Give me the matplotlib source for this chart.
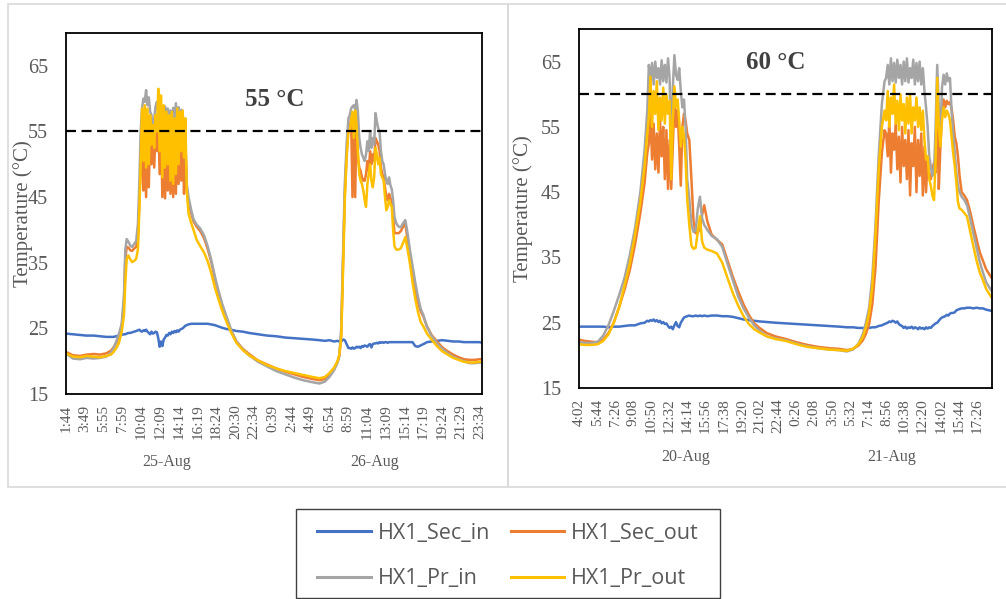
import matplotlib
matplotlib.use("Agg")
import matplotlib.pyplot as plt
from matplotlib.patches import Rectangle
import matplotlib.transforms as mtransforms

# ---------------- LEFT PANEL (25-26 Aug, set point 55 C) ----------------
# time in hours since 00:00 of 25-Aug
t_left = [1.73, 2.5, 3.3, 4.0, 4.8, 5.5, 6.2, 6.7, 7.0, 7.3, 7.6, 7.9, 8.15, 8.3, 8.45, 8.65, 8.85, 9.05, 9.3, 9.5, 9.7, 9.85, 10.0,
          10.15, 10.3, 10.45, 10.6, 10.75, 10.9, 11.05, 11.2, 11.35, 11.5, 11.65, 11.8, 11.95, 12.1, 12.25, 12.4, 12.55, 12.7,
          12.85, 13.0, 13.15, 13.3, 13.45, 13.6, 13.75, 13.9, 14.05, 14.2, 14.35, 14.5, 14.65, 14.8, 14.95, 15.1,
          15.3, 15.6, 15.85, 16.2, 16.6, 17.0, 17.4, 17.8, 18.2, 18.6, 19.0, 19.5, 20.0, 20.6, 21.3, 22.0, 23.0, 24.0, 25.0,
          26.0, 27.0, 28.0, 29.0, 29.8, 30.4, 30.9, 31.4, 31.8, 32.0,
          32.2, 32.4, 32.6, 32.8, 33.0,
          33.15, 33.3, 33.45, 33.6, 33.75, 33.9, 34.05, 34.2, 34.35, 34.5, 34.65, 34.8, 34.95, 35.1, 35.25, 35.4, 35.55,
          35.7, 35.85, 36.0, 36.15, 36.3, 36.45, 36.6, 36.75, 36.9, 37.05, 37.2, 37.35, 37.5, 37.65, 37.8, 37.95, 38.1,
          38.3, 38.55, 38.8, 39.05, 39.3, 39.55, 39.8, 40.1, 40.4, 40.7, 41.0, 41.3, 41.7, 42.2, 42.8, 43.4, 44.0, 44.6,
          45.2, 45.8, 46.4, 47.0, 47.5, 47.8]

sec_in_left = [24.2, 24.1, 24.0, 23.9, 23.9, 23.8, 23.7, 23.7, 23.7, 23.8, 23.9, 24.0, 24.1, 24.1, 24.2, 24.3, 24.3, 24.4, 24.5, 24.6, 24.7, 24.8, 24.6,
               24.5, 24.7, 24.6, 24.8, 24.5, 24.3, 24.1, 24.5, 24.2, 24.3, 24.5, 24.4, 23.5, 22.2, 23.0, 22.3, 23.3, 23.6,
               24.0, 23.9, 24.3, 24.1, 24.5, 24.3, 24.6, 24.4, 24.7, 24.5, 24.8, 24.9, 25.0, 25.2, 25.4, 25.5,
               25.6, 25.7, 25.7, 25.7, 25.7, 25.7, 25.7, 25.6, 25.5, 25.3, 25.1, 24.9, 24.8, 24.6, 24.5, 24.3, 24.1, 23.9, 23.8,
               23.6, 23.5, 23.4, 23.3, 23.2, 23.1, 23.2, 23.0, 23.1, 23.0,
               23.0, 23.3, 23.2, 22.6, 22.0,
               22.0, 21.9, 22.1, 21.9, 22.0, 22.2, 22.1, 22.2, 22.0, 22.3, 22.2, 22.4, 22.3, 22.2, 22.5, 22.6, 22.1,
               22.6, 22.7, 22.7, 22.8, 22.7, 22.9, 22.8, 22.9, 22.8, 22.9, 22.9, 22.8, 22.9, 22.9, 22.9, 22.9, 22.9,
               22.9, 22.9, 22.9, 22.9, 22.9, 22.9, 22.9, 22.9, 22.3, 22.2, 22.4, 22.6, 22.9, 23.0, 23.1, 23.2, 23.1, 23.0,
               23.0, 22.9, 22.9, 22.9, 22.9, 22.8]

sec_out_left = [21.4, 20.9, 20.8, 21.0, 21.1, 21.0, 21.2, 21.6, 22.1, 22.8, 23.8, 25.2, 29.0, 35.5, 37.4, 37.3, 36.9, 36.8, 37.2, 37.4, 39.0, 44.0, 50.0,
                52.0, 46.0, 55.0, 45.0, 54.0, 46.5, 55.0, 50.0, 54.5, 49.5, 55.0, 52.0, 57.0, 48.5, 56.0, 45.0, 55.0, 44.8,
                54.5, 46.0, 55.0, 45.5, 55.5, 45.0, 54.5, 45.5, 55.0, 47.0, 55.0, 47.5, 55.5, 45.5, 53.0, 46.5,
                44.0, 42.5, 41.3, 40.5, 39.8, 38.8, 37.2, 35.2, 32.7, 30.5, 28.6, 26.6, 24.7, 23.0, 21.9, 21.1, 20.1, 19.5, 18.9,
                18.4, 18.0, 17.6, 17.3, 17.1, 17.3, 17.9, 18.8, 19.9, 20.9,
                24.0, 34.5, 45.5, 51.5, 55.5,
                55.5, 57.0, 45.0, 56.5, 45.0, 57.5, 51.0, 49.5, 49.0, 48.0, 47.5, 47.5, 48.5, 50.5, 49.0, 52.0, 50.0,
                51.5, 50.5, 54.0, 53.5, 53.0, 52.0, 49.5, 48.5, 48.0, 46.5, 45.0, 44.5, 45.5, 44.8, 44.5, 42.0, 39.5,
                39.5, 39.5, 39.8, 40.5, 41.0, 38.5, 36.0, 33.5, 31.0, 29.0, 27.6, 26.8, 25.3, 24.0, 23.0, 22.1, 21.5, 21.0,
                20.6, 20.3, 20.2, 20.2, 20.3, 20.3]

pr_in_left = [21.2, 20.4, 20.3, 20.5, 20.4, 20.5, 20.7, 21.3, 22.0, 23.0, 24.2, 25.7, 30.0, 37.0, 38.6, 38.2, 37.6, 37.4, 37.9, 38.3, 41.0, 47.0, 55.0,
              58.5, 60.0, 59.5, 61.3, 59.0, 60.2, 58.0, 57.5, 53.5, 57.0, 58.8, 59.5, 57.8, 59.3, 56.5, 58.5, 57.0, 58.8,
              55.5, 58.5, 56.0, 58.2, 55.0, 58.6, 56.5, 59.3, 56.0, 58.7, 55.5, 58.3, 57.6, 56.0, 54.0, 47.0,
              45.0, 43.0, 41.6, 40.8, 40.2, 39.2, 37.6, 35.5, 33.0, 30.8, 28.8, 26.8, 24.8, 23.0, 21.8, 20.9, 19.9, 19.2, 18.5,
              18.0, 17.5, 17.1, 16.8, 16.6, 16.9, 17.6, 18.6, 19.8, 20.8,
              25.0, 36.0, 47.0, 53.0, 57.0,
              57.5, 58.5, 58.8, 59.0, 58.3, 59.8, 58.0, 54.0, 52.5, 51.5, 51.0, 50.5, 51.5, 53.5, 52.0, 55.0, 52.5,
              54.0, 53.0, 57.8, 56.5, 55.5, 55.0, 52.0, 50.5, 50.0, 48.5, 47.5, 47.0, 48.0, 46.8, 46.2, 44.5, 42.0,
              41.0, 40.5, 40.4, 41.0, 41.5, 39.5, 37.0, 34.5, 32.0, 29.8, 28.0, 27.0, 25.2, 23.9, 22.7, 21.9, 21.2, 20.7,
              20.3, 20.0, 19.7, 19.7, 19.8, 19.8]

pr_out_left = [21.2, 20.7, 20.6, 20.8, 20.7, 20.6, 20.8, 21.0, 21.4, 22.0, 22.8, 24.5, 27.0, 32.0, 35.5, 36.1, 35.5, 35.1, 35.3, 35.6, 37.0, 43.0, 50.0,
               58.5, 50.5, 59.0, 49.5, 58.5, 50.0, 57.5, 53.0, 56.0, 52.5, 57.5, 55.0, 61.5, 52.0, 60.5, 48.0, 59.0, 49.5,
               58.0, 50.0, 57.5, 47.5, 58.0, 47.0, 57.0, 48.5, 58.5, 50.0, 58.0, 52.0, 58.2, 51.0, 57.0, 46.0,
               42.5, 41.0, 40.0, 38.5, 37.5, 36.6, 35.3, 33.5, 31.3, 29.5, 27.8, 26.0, 24.4, 22.8, 21.7, 20.9, 20.1, 19.4, 18.9,
               18.5, 18.2, 17.9, 17.6, 17.4, 17.6, 18.2, 19.0, 20.0, 21.0,
               23.5, 33.5, 44.5, 51.0, 55.0,
               55.0, 56.5, 58.0, 54.0, 58.2, 56.0, 52.0, 48.5, 47.5, 47.0, 46.0, 44.5, 43.5, 47.0, 48.5, 50.0, 47.5,
               46.5, 48.0, 52.5, 51.5, 50.0, 51.0, 48.5, 48.0, 47.5, 45.0, 43.0, 43.5, 44.5, 44.0, 43.5, 40.0, 37.5,
               37.0, 37.0, 37.2, 38.0, 38.9, 37.0, 35.0, 32.0, 29.5, 27.5, 26.0, 25.3, 24.2, 23.3, 22.3, 21.5, 21.0, 20.5,
               20.2, 19.9, 19.8, 19.8, 19.9, 19.9]

ticks_left = ["1:44", "3:49", "5:55", "7:59", "10:04", "12:09", "14:14", "16:19", "18:24", "20:30", "22:34", "0:39",
              "2:44", "4:49", "6:54", "8:59", "11:04", "13:09", "15:14", "17:19", "19:24", "21:29", "23:34"]
days_left = ["25-Aug", "26-Aug"]
setpoint_left = 55

# ---------------- RIGHT PANEL (20-21 Aug, set point 60 C) ----------------
# time in hours since 00:00 of 20-Aug
t_right = [4.05, 4.6, 5.2, 5.8, 6.3, 6.8, 7.3, 7.8, 8.3, 8.8, 9.3, 9.8, 10.2, 10.45,
           10.6, 10.75, 10.9, 11.05, 11.2, 11.35, 11.5, 11.65, 11.8, 11.95, 12.1, 12.25, 12.4, 12.55, 12.7, 12.85, 13.0,
           13.15, 13.3, 13.45, 13.6, 13.75, 13.9, 14.05, 14.2,
           14.4, 14.6, 14.8, 15.0, 15.2, 15.4, 15.6, 15.8, 16.1, 16.5, 17.0, 17.5, 18.0, 18.5, 19.0, 19.5, 20.0, 20.5, 21.0,
           21.7, 22.5, 23.5, 24.5, 25.5, 26.5, 27.5, 28.5, 29.2, 29.8, 30.3, 30.7, 31.0, 31.3, 31.6, 31.9, 32.2, 32.5, 32.75,
           32.9, 33.05, 33.2, 33.35, 33.5, 33.65, 33.8, 33.95, 34.1, 34.25, 34.4, 34.55, 34.7, 34.85, 35.0, 35.15, 35.3,
           35.45, 35.6, 35.75, 35.9, 36.05, 36.2, 36.35, 36.5, 36.65,
           36.8, 36.95, 37.1, 37.25, 37.4, 37.55, 37.7, 37.85, 38.0, 38.15, 38.3, 38.45, 38.6, 38.75, 38.9, 39.05, 39.2,
           39.35, 39.5, 39.65, 39.8, 40.0, 40.25, 40.5, 40.8, 41.1, 41.4, 41.7, 42.0, 42.3, 42.6, 42.85]

sec_in_right = [24.4, 24.4, 24.4, 24.4, 24.4, 24.3, 24.4, 24.4, 24.5, 24.6, 24.6, 24.9, 25.0, 25.3,
                25.2, 25.4, 25.3, 25.5, 25.2, 25.4, 25.1, 25.3, 24.9, 25.1, 24.8, 24.9, 24.5, 24.2, 24.4, 24.0, 24.6,
                25.1, 24.5, 24.3, 25.0, 25.4, 25.8, 25.9, 26.0,
                26.1, 26.0, 26.0, 26.1, 26.0, 26.1, 26.0, 26.1, 26.0, 26.1, 26.1, 26.0, 26.0, 25.9, 25.7, 25.5, 25.4, 25.3, 25.2,
                25.1, 25.0, 24.9, 24.8, 24.7, 24.6, 24.5, 24.4, 24.3, 24.3, 24.2, 24.2, 24.2, 24.2, 24.3, 24.3, 24.5, 24.6, 24.8,
                24.9, 25.0, 25.2, 25.1, 25.3, 25.2, 25.0, 25.2, 24.8, 24.6, 24.5, 24.2, 24.4, 24.1, 24.3, 24.2, 24.4,
                24.1, 24.3, 24.2, 24.0, 24.3, 24.1, 24.2, 24.0, 24.3,
                24.1, 24.3, 24.2, 24.5, 24.7, 24.9, 25.0, 25.3, 25.6, 25.8, 25.9, 26.0, 26.2, 26.1, 26.4, 26.5, 26.5,
                26.6, 26.9, 27.0, 27.1, 27.2, 27.2, 27.3, 27.3, 27.2, 27.3, 27.2, 27.2, 27.0, 26.9, 26.8]

sec_out_right = [22.4, 22.2, 22.1, 22.0, 22.4, 23.4, 25.0, 27.4, 30.0, 33.0, 37.0, 41.8, 46.5, 51.0,
                 52.5, 57.0, 50.0, 55.5, 48.5, 54.0, 48.0, 56.0, 50.5, 55.0, 47.0, 54.5, 45.5, 53.0, 45.5, 52.0, 59.2,
                 55.0, 57.6, 52.0, 46.0, 55.0, 57.0, 56.0, 54.0,
                 53.0, 47.0, 40.5, 38.7, 38.8, 39.5, 41.5, 43.0, 40.5, 38.5, 37.7, 37.0, 34.5, 32.0, 29.8, 27.8, 26.2, 24.9, 24.2,
                 23.4, 22.9, 22.5, 22.0, 21.6, 21.3, 21.1, 21.0, 20.8, 21.0, 21.5, 22.3, 23.3, 24.8, 27.8, 33.5, 43.5, 51.0, 54.5,
                 54.0, 50.5, 56.0, 48.0, 54.0, 51.5, 55.5, 48.5, 53.5, 46.5, 55.0, 49.0, 53.0, 47.0, 54.5, 44.5, 52.5,
                 49.0, 55.0, 45.0, 53.0, 47.5, 54.0, 44.5, 52.0, 45.0,
                 50.0, 47.5, 47.0, 48.5, 49.5, 48.0, 57.0, 45.5, 52.0, 57.5, 59.2, 58.0, 59.0, 58.5, 58.8, 57.8, 56.0,
                 53.5, 52.5, 50.5, 47.5, 45.0, 44.5, 43.8, 42.0, 39.8, 37.8, 35.8, 34.5, 33.2, 32.4, 31.8]

pr_in_right = [22.0, 21.9, 21.9, 22.1, 23.0, 24.6, 26.8, 29.2, 31.8, 35.3, 39.5, 45.0, 51.5, 57.5,
               64.5, 62.0, 64.8, 61.5, 65.0, 62.5, 64.0, 61.5, 65.2, 62.0, 64.5, 61.8, 65.5, 62.5, 50.0, 61.0, 66.0,
               63.0, 62.2, 64.0, 60.5, 58.0, 59.2, 55.0, 47.0,
               44.0, 40.0, 38.9, 39.2, 42.5, 44.3, 41.0, 40.0, 39.2, 38.3, 37.8, 36.6, 34.0, 31.5, 29.0, 27.2, 25.8, 24.6, 23.8,
               22.9, 22.6, 22.3, 21.8, 21.4, 21.1, 20.9, 20.8, 20.6, 20.9, 21.8, 23.2, 25.0, 27.3, 32.0, 40.0, 50.5, 58.5, 62.0,
               62.5, 64.5, 61.5, 65.5, 62.0, 64.8, 61.8, 65.3, 62.5, 64.5, 61.5, 65.0, 62.0, 65.5, 61.8, 64.0, 62.5,
               65.3, 61.5, 64.8, 62.0, 65.0, 61.5, 64.0, 60.5, 58.0,
               55.0, 50.5, 49.0, 47.5, 48.0, 55.0, 64.5, 58.0, 54.0, 61.0, 63.0, 61.5, 63.2, 62.0, 62.5, 57.5, 54.0,
               51.0, 48.0, 46.0, 45.0, 44.3, 43.8, 43.0, 41.0, 38.7, 36.5, 34.3, 32.7, 31.2, 30.4, 29.8]

pr_out_right = [21.7, 21.6, 21.6, 21.7, 22.2, 23.2, 25.0, 27.3, 30.6, 34.0, 38.5, 43.5, 49.0, 54.0,
                56.5, 62.7, 55.0, 60.5, 57.0, 62.0, 54.5, 59.5, 56.0, 61.0, 55.5, 60.0, 57.0, 59.0, 47.0, 56.0, 61.2,
                58.0, 59.2, 56.0, 52.0, 55.0, 53.5, 50.0, 44.0,
                40.0, 36.8, 36.3, 36.5, 39.0, 41.3, 37.5, 36.5, 36.2, 36.0, 35.6, 34.2, 31.8, 29.5, 27.6, 26.0, 24.8, 24.0, 23.5,
                22.9, 22.5, 22.2, 21.7, 21.3, 21.1, 20.9, 20.8, 20.7, 21.0, 21.7, 22.8, 24.3, 26.5, 30.5, 38.5, 48.5, 55.0, 57.5,
                56.0, 60.5, 55.0, 59.5, 57.0, 61.5, 55.5, 59.0, 54.5, 60.0, 56.0, 58.5, 54.0, 59.5, 55.5, 60.0, 54.0,
                58.0, 56.0, 59.5, 55.0, 58.0, 54.5, 57.5, 53.0, 50.0,
                50.5, 47.0, 46.0, 44.5, 43.8, 50.0, 62.5, 55.0, 52.0, 56.0, 58.0, 56.5, 57.5, 57.0, 56.0, 53.5, 51.0,
                49.0, 46.5, 43.5, 42.5, 42.3, 41.8, 41.3, 39.0, 36.7, 34.5, 32.7, 31.5, 30.2, 29.4, 28.8]

ticks_right = ["4:02", "5:44", "7:26", "9:08", "10:50", "12:32", "14:14", "15:56", "17:38", "19:20", "21:02", "22:44",
               "0:26", "2:08", "3:50", "5:32", "7:14", "8:56", "10:38", "12:20", "14:02", "15:44", "17:26"]
days_right = ["20-Aug", "21-Aug"]
setpoint_right = 60

series_names = ["HX1_Sec_in", "HX1_Sec_out", "HX1_Pr_in", "HX1_Pr_out"]
colors = ["#4472C4", "#ED7D31", "#A5A5A5", "#FFC000"]
yticks = [15, 25, 35, 45, 55, 65]

SERIF = "Liberation Serif"
TXT = "#595959"
W, H = 1006, 599


def tick_hours(labels):
    out, day, prev = [], 0, -1
    for s in labels:
        h, m = s.split(":")
        v = int(h) + int(m) / 60.0
        if v < prev:
            day += 24
        prev = v
        out.append(v + day)
    return out


def fig_rect(x0, y0, x1, y1):
    # pixel box (top-left origin) -> figure fraction [l, b, w, h]
    return [x0 / W, 1 - y1 / H, (x1 - x0) / W, (y1 - y0) / H]


fig = plt.figure(figsize=(10.06, 5.99), dpi=100)
fig.patch.set_facecolor("white")

# outer panel frames
for (x0, y0, x1, y1) in [(8, 4, 508, 487), (508, 4, 1010, 487)]:
    l, b, w, h = fig_rect(x0, y0, x1, y1)
    fig.add_artist(Rectangle((l, b), w, h, transform=fig.transFigure, fill=False,
                             ec="#d9d9d9", lw=1.2))


def panel(box, t, s_in, s_out, p_in, p_out, tick_labels, days, setpoint, xmax,
          ylab_x, text_xy, date_y):
    for arr in (s_in, s_out, p_in, p_out):
        assert len(arr) == len(t), (len(arr), len(t))
    ax = fig.add_axes(fig_rect(*box))
    lines = []
    for arr, c, nm in zip((s_in, s_out, p_in, p_out), colors, series_names):
        ln, = ax.plot(t, arr, color=c, lw=1.8, label=nm, solid_joinstyle="round")
        lines.append(ln)
    ax.axhline(setpoint, color="black", lw=1.6, ls=(0, (4.5, 2.5)))
    tpos = tick_hours(tick_labels)
    ax.set_xlim(tpos[0], xmax)
    ax.set_ylim(15, 70)
    ax.set_xticks(tpos)
    ax.set_xticklabels(tick_labels, rotation=90, fontfamily=SERIF, fontsize=11, color=TXT)
    ax.set_yticks(yticks)
    ax.set_yticklabels([str(v) for v in yticks], fontfamily=SERIF, fontsize=14.5, color=TXT)
    ax.tick_params(axis="both", length=0)
    ax.tick_params(axis="x", pad=7.5)
    ax.tick_params(axis="y", pad=13)
    for sp in ax.spines.values():
        sp.set_color("black")
        sp.set_linewidth(1.3)
    ax.set_ylabel("Temperature (°C)", fontfamily=SERIF, fontsize=15, color=TXT)
    ax.yaxis.set_label_coords(ylab_x, 0.5)
    ax.text(text_xy[0], text_xy[1], f"{setpoint} °C", transform=ax.transAxes,
            ha="center", va="center", fontfamily=SERIF, fontsize=18, fontweight="bold", color="#404040")
    trans = mtransforms.blended_transform_factory(ax.transData, ax.transAxes)
    bounds = [tpos[0], 24.0, xmax]
    for i, d in enumerate(days):
        ax.text((bounds[i] + bounds[i + 1]) / 2, date_y, d, transform=trans, ha="center", va="center",
                fontfamily=SERIF, fontsize=11.5, color=TXT, clip_on=False)
    return lines


lines = panel((66, 33, 482, 394), t_left, sec_in_left, sec_out_left, pr_in_left, pr_out_left,
              ticks_left, days_left, setpoint_left, 47.79, -0.079, (0.502, 0.817), -0.188)
panel((579, 29, 992, 388), t_right, sec_in_right, sec_out_right, pr_in_right, pr_out_right,
      ticks_right, days_right, setpoint_right, 42.85, -0.111, (0.477, 0.908), -0.192)

# legend box
l, b, w, h = fig_rect(296, 509, 720, 598)
fig.add_artist(Rectangle((l, b), w, h, transform=fig.transFigure, fill=False, ec="#404040", lw=1.0))
order = [0, 2, 1, 3]
leg = fig.legend([lines[i] for i in order], [series_names[i] for i in order], ncol=2,
                 loc="center", bbox_to_anchor=((296 + 720) / 2 / W, 1 - 556 / H),
                 frameon=False, prop={"family": "Open Sans", "size": 15.5},
                 handlelength=2.5, handletextpad=0.3, columnspacing=0.95, labelspacing=1.15)
for txt in leg.get_texts():
    txt.set_color(TXT)
for lh in leg.get_lines():
    lh.set_linewidth(2.2)

fig.savefig("out.png", dpi=100)
